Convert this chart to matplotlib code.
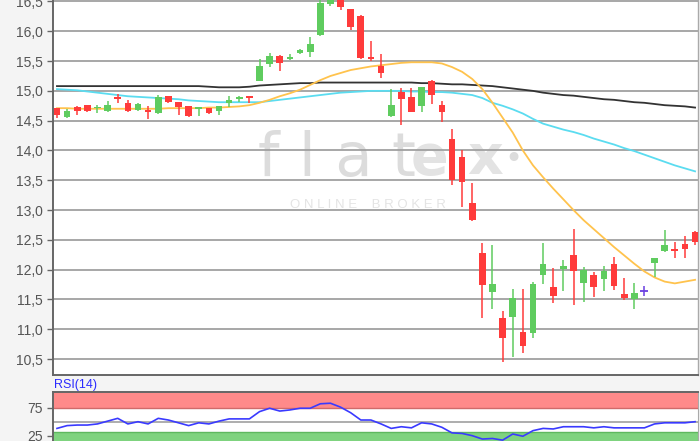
import numpy as np
import matplotlib
matplotlib.use("Agg")
from matplotlib import pyplot as plt
from matplotlib.ticker import FixedLocator, FuncFormatter

plt.rcParams['font.family'] = ['Liberation Sans', 'DejaVu Sans']

# ---- daily candles
opens = [14.71, 14.57, 14.73, 14.76, 14.71, 14.67, 14.89, 14.79, 14.68, 14.67,
         14.63, 14.91, 14.81, 14.74, 14.70, 14.71, 14.66, 14.79, 14.86, 14.91,
         15.17, 15.45, 15.59, 15.54, 15.63, 15.65, 15.93, 16.46, 16.60, 16.37,
         16.25, 15.56, 15.42, 14.58, 14.98, 14.90, 14.75, 15.17, 14.76, 14.20,
         13.89, 13.12, 12.28, 11.63, 11.19, 11.21, 10.95, 10.94, 11.91, 11.71,
         12.01, 12.25, 11.78, 11.91, 11.84, 12.10, 11.59, 11.51, 11.64, 12.11,
         12.31, 12.34, 12.43, 12.63]
closes = [14.59, 14.67, 14.67, 14.67, 14.73, 14.76, 14.87, 14.66, 14.78, 14.65,
          14.90, 14.81, 14.73, 14.58, 14.72, 14.63, 14.74, 14.85, 14.89, 14.88,
          15.42, 15.59, 15.47, 15.56, 15.69, 15.78, 16.48, 16.60, 16.40, 16.08,
          15.55, 15.54, 15.30, 14.76, 14.86, 14.65, 15.06, 14.93, 14.65, 13.50,
          13.47, 12.84, 11.74, 11.76, 10.85, 11.52, 10.72, 11.76, 12.09, 11.56,
          12.06, 11.98, 11.99, 11.71, 11.98, 11.73, 11.53, 11.61, 11.64, 12.19,
          12.41, 12.32, 12.35, 12.46]
highs = [14.72, 14.70, 14.74, 14.77, 14.77, 14.83, 14.95, 14.84, 14.80, 14.75,
         14.93, 14.92, 14.82, 14.75, 14.73, 14.72, 14.75, 14.91, 14.92, 14.92,
         15.53, 15.64, 15.60, 15.62, 15.70, 15.90, 16.60, 16.65, 16.65, 16.38,
         16.28, 15.83, 15.62, 15.03, 15.05, 15.05, 15.07, 15.18, 14.83, 14.36,
         14.01, 13.45, 12.45, 12.41, 11.31, 11.67, 11.67, 11.79, 12.45, 12.03,
         12.16, 12.68, 12.04, 11.96, 12.06, 12.21, 11.86, 11.78, 11.73, 12.20,
         12.67, 12.46, 12.56, 12.65]
lows = [14.54, 14.55, 14.60, 14.64, 14.63, 14.64, 14.80, 14.65, 14.66, 14.53,
        14.62, 14.79, 14.60, 14.57, 14.58, 14.62, 14.60, 14.73, 14.82, 14.80,
        15.16, 15.40, 15.33, 15.52, 15.62, 15.57, 15.92, 16.43, 16.36, 16.02,
        15.53, 15.50, 15.22, 14.56, 14.43, 14.64, 14.65, 14.78, 14.48, 13.42,
        13.05, 12.82, 11.19, 11.34, 10.45, 10.53, 10.60, 10.85, 11.76, 11.44,
        11.64, 11.41, 11.46, 11.54, 11.64, 11.66, 11.49, 11.34, 11.55, 11.88,
        12.30, 12.19, 12.19, 12.41]

# ---- moving averages
ma_short = [14.71, 14.71, 14.70, 14.70, 14.70, 14.70, 14.70, 14.70, 14.70, 14.70,
            14.70, 14.71, 14.71, 14.71, 14.71, 14.72, 14.72, 14.73, 14.74, 14.76,
            14.80, 14.85, 14.91, 14.96, 15.02, 15.10, 15.18, 15.25, 15.30, 15.35,
            15.38, 15.41, 15.43, 15.45, 15.47, 15.48, 15.48, 15.48, 15.46, 15.40,
            15.32, 15.20, 15.03, 14.80, 14.55, 14.30, 14.00, 13.75, 13.55, 13.36,
            13.18, 13.00, 12.83, 12.68, 12.53, 12.38, 12.24, 12.10, 11.97, 11.87,
            11.80, 11.77, 11.80, 11.83]
ma_mid = [15.03, 15.02, 15.01, 14.99, 14.97, 14.95, 14.93, 14.91, 14.90, 14.89,
          14.88, 14.87, 14.86, 14.84, 14.83, 14.82, 14.81, 14.81, 14.81, 14.81,
          14.81, 14.83, 14.85, 14.87, 14.89, 14.91, 14.93, 14.95, 14.97, 14.98,
          14.99, 15.00, 15.00, 15.00, 15.00, 14.99, 14.99, 14.98, 14.98, 14.97,
          14.95, 14.93, 14.88, 14.80, 14.75, 14.69, 14.62, 14.53, 14.45, 14.40,
          14.35, 14.31, 14.26, 14.20, 14.15, 14.10, 14.04, 13.99, 13.93, 13.87,
          13.81, 13.75, 13.70, 13.65]
ma_long = [15.08, 15.08, 15.08, 15.08, 15.08, 15.08, 15.08, 15.08, 15.08, 15.08,
           15.08, 15.08, 15.08, 15.08, 15.08, 15.07, 15.06, 15.06, 15.06, 15.07,
           15.09, 15.10, 15.11, 15.12, 15.13, 15.13, 15.14, 15.14, 15.14, 15.14,
           15.14, 15.14, 15.14, 15.14, 15.14, 15.14, 15.13, 15.13, 15.12, 15.11,
           15.11, 15.10, 15.09, 15.08, 15.06, 15.04, 15.02, 15.00, 14.97, 14.95,
           14.93, 14.92, 14.90, 14.88, 14.86, 14.85, 14.83, 14.81, 14.80, 14.78,
           14.76, 14.75, 14.74, 14.72]

# ---- RSI(14)
rsi = [38, 43, 44, 44, 46, 51, 56, 46, 50, 46,
       56, 53, 48, 43, 48, 46, 51, 55, 55, 55,
       68, 74, 69, 71, 74, 74, 82, 83, 76, 66,
       53, 53, 46, 38, 41, 39, 48, 46, 40, 30,
       29, 25, 19, 20, 17, 28, 24, 34, 38, 37,
       41, 41, 41, 39, 41, 39, 39, 39, 39, 46,
       48, 48, 48, 50]

price_ticks = [10.5, 11.0, 11.5, 12.0, 12.5, 13.0, 13.5, 14.0, 14.5, 15.0, 15.5, 16.0, 16.5]
rsi_ticks = [25, 75]

UP = '#5fcc5f'
DOWN = '#ff3b3b'
FLAT = '#6a3fe0'
GRID = '#a0a0a0'

fig = plt.figure(figsize=(7, 4.41), dpi=100, facecolor='#f4f4f4')
ax = fig.add_axes([0.075, 0.1497, 0.922, 0.8503])
ax_rsi = fig.add_axes([0.075, 0.0, 0.922, 0.1118])

x = np.arange(len(opens))
o = np.array(opens)
c = np.array(closes)

# ---- price panel
for yv in price_ticks:
    ax.axhline(yv, color=GRID, lw=1.3, zorder=1)

ax.plot(x, ma_long, color='#333333', lw=1.3, zorder=2)
ax.plot(x, ma_mid, color='#5bdcf0', lw=1.3, zorder=2)
ax.plot(x, ma_short, color='#ffc34d', lw=1.3, zorder=2)

cols = [UP if cc > oo else (DOWN if cc < oo else FLAT) for oo, cc in zip(opens, closes)]
ax.vlines(x, lows, highs, colors=cols, lw=1.1, zorder=3)
bottoms = np.minimum(o, c)
heights = np.maximum(np.abs(c - o), 0.025)
body = [i for i in range(len(x)) if cols[i] != FLAT]
ax.bar(x[body], heights[body], bottom=bottoms[body], width=0.66,
       color=[cols[i] for i in body], linewidth=0, zorder=3)
flat = [i for i in range(len(x)) if cols[i] == FLAT]
ax.hlines(o[flat], x[flat] - 0.4, x[flat] + 0.4, colors=FLAT, lw=1.3, zorder=3)

# watermark
ax.text(0.318, 0.575, 'f l a t', transform=ax.transAxes, fontsize=44,
        color='#dcdcdc', va='center', ha='left', family='DejaVu Sans', zorder=0.5)
ax.text(0.555, 0.575, 'e x', transform=ax.transAxes, fontsize=40, fontweight='bold',
        color='#e3e3e3', va='center', ha='left', family='DejaVu Sans', zorder=0.5)
ax.text(0.700, 0.575, '\u2022', transform=ax.transAxes, fontsize=22,
        color='#dcdcdc', va='center', ha='left', family='DejaVu Sans', zorder=0.5)
ax.text(0.368, 0.452, 'O N L I N E    B R O K E R', transform=ax.transAxes,
        fontsize=9.5, color='#e4e4e4', va='center', ha='left', zorder=0.5)

ax.set_xlim(-0.44, 63.28)
ax.set_ylim(10.233, 16.525)
ax.set_facecolor('white')
ax.yaxis.set_major_locator(FixedLocator(price_ticks))
ax.yaxis.set_major_formatter(FuncFormatter(lambda v, p: f'{v:.1f}'.replace('.', ',')))
ax.set_xticks([])
ax.tick_params(axis='y', length=4, width=1, color='#666666', labelcolor='#555555',
               labelsize=10, pad=3)
for s in ['left', 'bottom']:
    ax.spines[s].set_color('#666666')
    ax.spines[s].set_linewidth(1.4)
ax.spines['right'].set_color('#aaaaaa')
ax.spines['right'].set_linewidth(1.0)
ax.spines['top'].set_visible(False)

# ---- RSI panel
ax_rsi.set_facecolor('white')
ax_rsi.axhspan(75, 104, color='#ff8a8a', lw=0, zorder=0.5)
ax_rsi.axhline(75, color='#d06a6a', lw=1.0, zorder=1)
ax_rsi.axhspan(0, 32, color='#7fd37f', lw=0, zorder=0.5)
ax_rsi.axhline(32, color='#5fb85f', lw=1.0, zorder=1)
ax_rsi.axhline(50, color=GRID, lw=1.2, zorder=1)
ax_rsi.plot(x, rsi, color='#3a3aff', lw=1.2, zorder=3)
ax_rsi.set_xlim(-0.44, 63.28)
ax_rsi.set_ylim(15.5, 103.6)
ax_rsi.set_yticks(rsi_ticks)
ax_rsi.set_xticks([])
ax_rsi.tick_params(axis='y', length=4, width=1, color='#666666', labelcolor='#555555',
                   labelsize=10, pad=3)
for s in ['left', 'top']:
    ax_rsi.spines[s].set_color('#666666')
    ax_rsi.spines[s].set_linewidth(1.4)
ax_rsi.spines['right'].set_color('#aaaaaa')
ax_rsi.spines['bottom'].set_visible(False)

fig.text(0.077, 0.127, 'RSI(14)', color='#2a2aff', fontsize=9, va='center', ha='left')

fig.savefig('out.png', dpi=100, facecolor=fig.get_facecolor())
